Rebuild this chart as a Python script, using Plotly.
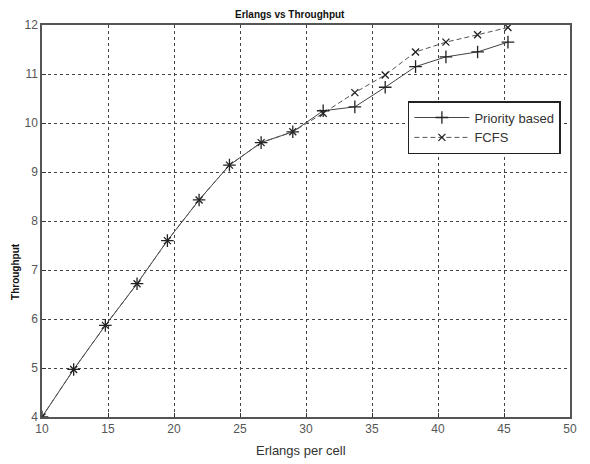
import plotly.graph_objects as go

erlangs = [10, 12.4, 14.8, 17.2, 19.5, 21.9, 24.2, 26.6, 29.0, 31.3, 33.7, 36.0, 38.3, 40.6, 43.0, 45.3]
priority_based = [4.0, 4.97, 5.87, 6.72, 7.6, 8.43, 9.14, 9.6, 9.82, 10.25, 10.33, 10.73, 11.15, 11.35, 11.45, 11.65]
fcfs = [4.0, 4.97, 5.87, 6.72, 7.6, 8.43, 9.14, 9.6, 9.82, 10.2, 10.62, 10.98, 11.45, 11.65, 11.8, 11.95]
x_ticks = [10, 15, 20, 25, 30, 35, 40, 45, 50]
y_ticks = [4, 5, 6, 7, 8, 9, 10, 11, 12]

fig = go.Figure()
fig.add_trace(go.Scatter(
    x=erlangs, y=priority_based, name="Priority based", mode="lines+markers",
    line=dict(color="#444444", width=1),
    marker=dict(symbol="cross-thin", size=9, line=dict(color="#222222", width=1.3)),
))
fig.add_trace(go.Scatter(
    x=erlangs, y=fcfs, name="FCFS", mode="lines+markers",
    line=dict(color="#555555", width=1, dash="5px,3px"),
    marker=dict(symbol="x-thin", size=7, line=dict(color="#222222", width=1.3)),
))

axis_common = dict(
    showgrid=True, gridcolor="#444444", griddash="3px,3px", gridwidth=1,
    showline=True, linecolor="#555555", linewidth=1.5, mirror=True,
    ticks="inside", ticklen=4, tickcolor="#333333",
    zeroline=False,
    tickfont=dict(family="Liberation Sans, Arial", size=12, color="#555555"),
)

fig.update_xaxes(range=[10, 50], tickvals=x_ticks, **axis_common)
fig.update_yaxes(range=[4, 12], tickvals=y_ticks, **axis_common)

fig.update_layout(
    width=590, height=464,
    margin=dict(l=42, r=20, t=25, b=47),
    paper_bgcolor="white", plot_bgcolor="white",
    showlegend=True,
    legend=dict(
        x=0.693, y=0.806, xanchor="left", yanchor="top",
        bgcolor="white", bordercolor="#222222", borderwidth=1.5,
        font=dict(family="Liberation Sans, Arial", size=13, color="#333333"),
        tracegroupgap=0, itemwidth=55,
    ),
    annotations=[
        dict(text="<b>Erlangs vs Throughput</b>", x=0.47, y=1.0, xref="paper", yref="paper",
             xanchor="center", yanchor="bottom", yshift=3, showarrow=False,
             font=dict(family="Liberation Sans, Arial", size=10, color="#111111")),
        dict(text="Erlangs per cell", x=0.49, y=0, xref="paper", yref="paper",
             xanchor="center", yanchor="top", yshift=-24, showarrow=False,
             font=dict(family="Liberation Sans, Arial", size=13, color="#333333")),
        dict(text="<b>Throughput</b>", x=0, y=0.37, xref="paper", yref="paper",
             xanchor="center", yanchor="middle", xshift=-26, textangle=-90, showarrow=False,
             font=dict(family="Liberation Sans, Arial", size=10, color="#111111")),
    ],
)

fig.write_html("out.html")
